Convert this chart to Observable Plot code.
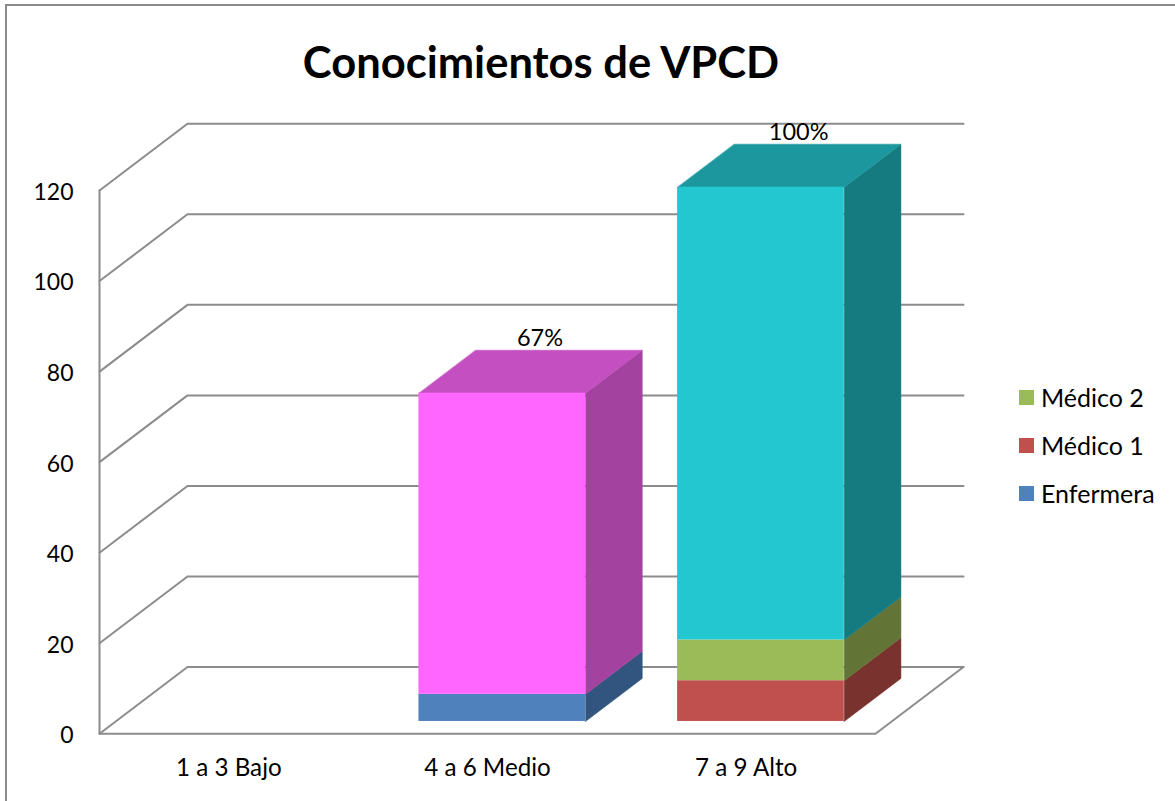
<!DOCTYPE html>
<html>
<head>
<meta charset="utf-8">
<script src="https://cdn.jsdelivr.net/npm/d3@7"></script>
<script src="https://cdn.jsdelivr.net/npm/@observablehq/plot@0.6"></script>
<style>
  html, body { margin: 0; padding: 0; background: #fff; overflow: hidden; }
  body { width: 1175px; height: 801px; position: relative; font-family: Lato, sans-serif; color: #000; }
  #frame { position: absolute; left: 5px; top: 4px; right: -5px; bottom: -5px; border-left: 2px solid #8a8a8a; border-top: 2px solid #8a8a8a; }
  #chart { position: absolute; left: 0; top: 0; }
  #title { position: absolute; left: 141px; width: 800px; top: 36px; text-align: center; font-size: 43.5px; line-height: 50px; font-weight: 700; }
  #legend { position: absolute; left: 1019px; top: 373px; font-size: 25px; }
  #legend .row { display: flex; align-items: center; height: 48px; }
  #legend .sw { width: 15px; height: 15px; margin-right: 7px; }
</style>
</head>
<body>
<div id="frame"></div>
<div id="chart"></div>
<div id="title">Conocimientos de VPCD</div>
<div id="legend"></div>
<script>
const categories = ["1 a 3 Bajo", "4 a 6 Medio", "7 a 9 Alto"];
const enfermera = [0, 6, 0];
const medico1 = [0, 0, 9];
const medico2 = [0, 0, 9];
const total = [0, 66.5, 100];
const totalLabels = ["", "67%", "100%"];
const yTicks = [0, 20, 40, 60, 80, 100, 120];

const seriesNames = ["Enfermera", "Médico 1", "Médico 2"];
const legendColors = ["#4F81BD", "#C0504D", "#9BBB59"];

// colours of each stacked piece: front, side, top
const enfermeraColors = ["#4F81BD", "#32557F", "#3F6797"];
const medico1Colors = ["#C0504D", "#7A322F", "#99403D"];
const medico2Colors = ["#9BBB59", "#637536", "#7C9647"];
const totalColors = [
  ["#FF66FF", "#A3429F", "#C44FC0"],
  ["#FF66FF", "#A3429F", "#C44FC0"],
  ["#22C7D0", "#167B80", "#1C979E"]
];

// oblique projection expressed in data units
const depthX = 0.3402;
const depthY = 14.74;
const frontDepth = 0.185;
const backDepth = 0.83;
const barStart = 0.172;
const barWidth = 0.644;

const px = (x, d) => x + d * depthX;
const py = (y, d) => y + d * depthY;

// pieces of the stacks
const fronts = [], polys = [];
let polyId = 0;
function polygon(points, fill) {
  const id = polyId++;
  for (const [x, y] of points) polys.push({x, y, id, fill});
}
const labels = [];
categories.forEach((cat, i) => {
  const parts = [
    [enfermera[i], enfermeraColors],
    [medico1[i], medico1Colors],
    [medico2[i], medico2Colors],
    [total[i], totalColors[i]]
  ].filter(p => p[0] > 0);
  if (!parts.length) return;
  const x0 = i + barStart, x1 = x0 + barWidth;
  let base = 0;
  parts.forEach(([v, c], k) => {
    const top = base + v;
    fronts.push({
      x1: px(x0, frontDepth), x2: px(x1, frontDepth),
      y1: py(base, frontDepth), y2: py(top, frontDepth), fill: c[0]
    });
    polygon([
      [px(x1, frontDepth), py(base, frontDepth)],
      [px(x1, backDepth), py(base, backDepth)],
      [px(x1, backDepth), py(top, backDepth)],
      [px(x1, frontDepth), py(top, frontDepth)]
    ], c[1]);
    if (k === parts.length - 1) {
      polygon([
        [px(x0, frontDepth), py(top, frontDepth)],
        [px(x1, frontDepth), py(top, frontDepth)],
        [px(x1, backDepth), py(top, backDepth)],
        [px(x0, backDepth), py(top, backDepth)]
      ], c[2]);
      labels.push({
        x: px(x0 + barWidth / 2, backDepth),
        y: py(top, backDepth),
        text: totalLabels[i]
      });
    }
    base = top;
  });
});

// walls and grid
const grid = [];
yTicks.forEach(t => {
  grid.push({x: 0, y: t, id: "g" + t});
  grid.push({x: px(0, 1), y: py(t, 1), id: "g" + t});
  grid.push({x: px(3, 1), y: py(t, 1), id: "g" + t});
});
const frameLines = [
  {x: 0, y: yTicks[yTicks.length - 1], id: "a"},
  {x: 0, y: 0, id: "a"},
  {x: 3, y: 0, id: "a"},
  {x: px(3, 1), y: py(0, 1), id: "a"}
];

const plot = Plot.plot({
  width: 1175,
  height: 801,
  marginLeft: 99, marginRight: 300, marginTop: 190, marginBottom: 68,
  style: {background: "transparent", fontFamily: "Lato, sans-serif", color: "#000", overflow: "visible"},
  x: {domain: [0, 3], range: [99, 875]},
  y: {domain: [0, 120], range: [733.3, 190]},
  color: {type: "identity"},
  marks: [
    Plot.line(grid, {x: "x", y: "y", z: "id", stroke: "#8c8c8c", strokeWidth: 2}),
    Plot.line(frameLines, {x: "x", y: "y", z: "id", stroke: "#8c8c8c", strokeWidth: 2}),
    Plot.line(polys, {x: "x", y: "y", z: "id", fill: "fill", stroke: "fill", strokeWidth: 0.5, curve: "linear-closed"}),
    Plot.rect(fronts, {x1: "x1", x2: "x2", y1: "y1", y2: "y2", fill: "fill"}),
    Plot.text(labels, {x: "x", y: "y", text: "text", dx: -19, dy: -12, fontSize: 23.5, fill: "#000"}),
    Plot.axisY({ticks: yTicks, tickSize: 0, tickPadding: 26, fontSize: 23, dy: 2, label: null, tickFormat: d => String(d), fill: "#000"}),
    Plot.axisX({ticks: [0.5, 1.5, 2.5], tickSize: 0, tickPadding: 25, fontSize: 24.2, label: null, tickFormat: d => categories[Math.floor(d)], fill: "#000"})
  ]
});
document.getElementById("chart").appendChild(plot);

const legend = document.getElementById("legend");
[2, 1, 0].forEach(i => {
  const row = document.createElement("div");
  row.className = "row";
  const sw = document.createElement("span");
  sw.className = "sw";
  sw.style.background = legendColors[i];
  const t = document.createElement("span");
  t.textContent = seriesNames[i];
  row.append(sw, t);
  legend.append(row);
});
</script>
</body>
</html>
